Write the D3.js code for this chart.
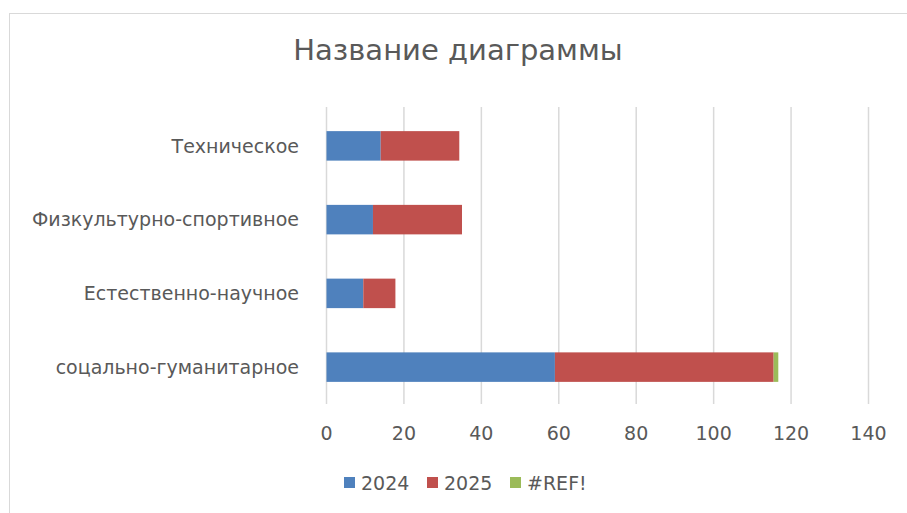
<html>
<head>
  <meta charset="utf-8">
  <script src="https://d3js.org/d3.v7.min.js"></script>
  <style>
    body { margin: 0; background: #fff; }
    svg text { font-family: 'DejaVu Sans', sans-serif; fill: #595959; }
  </style>
</head>
<body>
  <svg id="chart" width="907" height="513"></svg>
  <script>
    const categories = ["Техническое", "Физкультурно-спортивное", "Естественно-научное", "соцально-гуманитарное"];
    const seriesNames = ["2024", "2025", "#REF!"];
    const values2024 = [14, 12, 9.5, 59];
    const values2025 = [20.3, 23, 8.3, 56.5];
    const valuesRef = [0, 0, 0, 1.2];
    const ticks = [0, 20, 40, 60, 80, 100, 120, 140];
    const colors = ["#4f81bd", "#c0504d", "#9bbb59"];

    const svg = d3.select("#chart");

    // chart area border
    svg.append("rect")
      .attr("x", 9.5).attr("y", 13.5)
      .attr("width", 920).attr("height", 520)
      .attr("fill", "none")
      .attr("stroke", "#d9d9d9");

    const rows = categories.map((c, i) => ({
      cat: c, "2024": values2024[i], "2025": values2025[i], "#REF!": valuesRef[i]
    }));
    const series = d3.stack().keys(seriesNames)(rows);

    const x = d3.scaleLinear().domain([0, 140]).range([326.5, 868.5]);
    const y = d3.scaleBand().domain(categories).range([109, 404])
      .paddingInner(0.6).paddingOuter(0.3);

    // gridlines
    svg.append("g").selectAll("line").data(ticks).join("line")
      .attr("x1", d => x(d)).attr("x2", d => x(d))
      .attr("y1", 107).attr("y2", 404)
      .attr("stroke", "#d9d9d9").attr("stroke-width", 1.5);

    // bars
    svg.append("g").selectAll("g").data(series).join("g")
      .attr("fill", (d, i) => colors[i])
      .selectAll("rect").data(d => d).join("rect")
      .attr("x", d => x(d[0]))
      .attr("width", d => x(d[1]) - x(d[0]))
      .attr("y", d => y(d.data.cat))
      .attr("height", y.bandwidth());

    // x tick labels
    svg.append("g").selectAll("text").data(ticks).join("text")
      .attr("x", d => x(d)).attr("y", 440)
      .attr("text-anchor", "middle")
      .attr("font-size", 19)
      .text(d => d);

    // category labels
    svg.append("g").selectAll("text").data(categories).join("text")
      .attr("x", 299).attr("y", d => y(d) + y.bandwidth() / 2)
      .attr("dy", "0.35em")
      .attr("text-anchor", "end")
      .attr("font-size", 19)
      .text(d => d);

    // title
    svg.append("text")
      .attr("x", 458).attr("y", 60)
      .attr("text-anchor", "middle")
      .attr("font-size", 29)
      .text("Название диаграммы");

    // legend
    const legendX = [344, 427, 510];
    const legend = svg.append("g").selectAll("g").data(seriesNames).join("g")
      .attr("transform", (d, i) => `translate(${legendX[i]},477)`);
    legend.append("rect")
      .attr("width", 11).attr("height", 11)
      .attr("fill", (d, i) => colors[i]);
    legend.append("text")
      .attr("x", 17).attr("y", 13)
      .attr("font-size", 19)
      .text(d => d);
  </script>
</body>
</html>
